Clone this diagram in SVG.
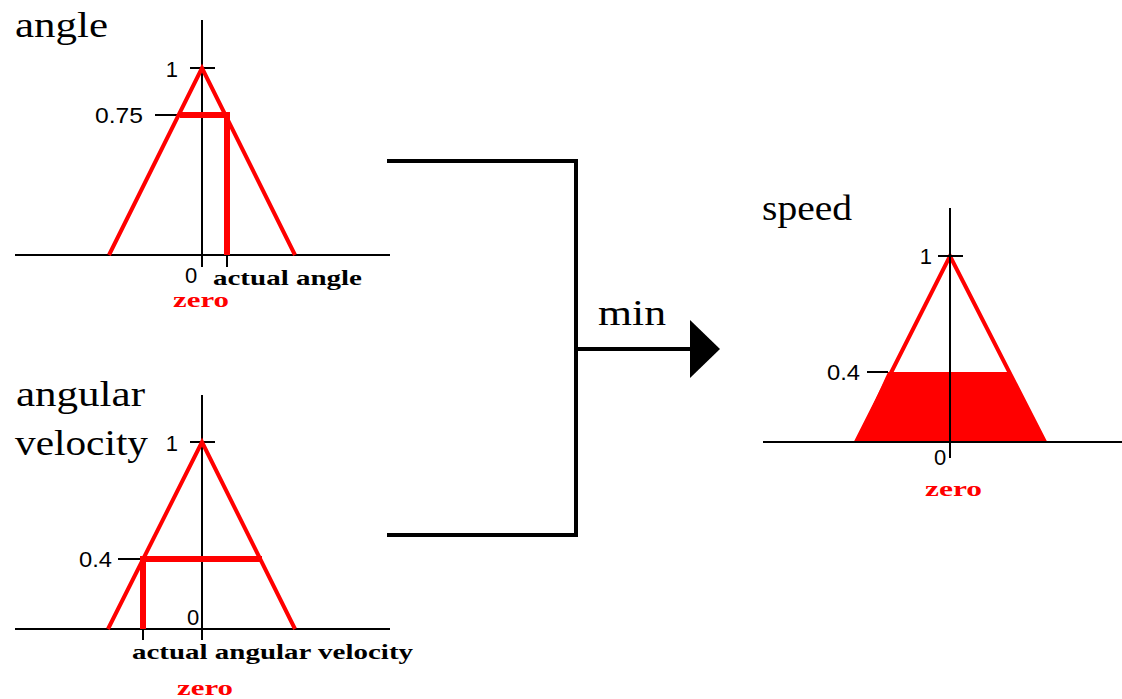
<svg xmlns="http://www.w3.org/2000/svg" width="1122" height="699" viewBox="0 0 1122 699">
<style>
.title{font-family:"Liberation Serif",serif;font-size:36px;fill:#000}
.num{font-family:"Liberation Sans",sans-serif;font-size:22px;fill:#000}
.lbl{font-family:"Liberation Serif",serif;font-size:22px;font-weight:bold;fill:#000}
.zero{font-family:"Liberation Serif",serif;font-size:22px;font-weight:bold;fill:#f00}
.ax{stroke:#000;stroke-width:2;fill:none}
.mf{stroke:#f00;stroke-width:4;fill:none;stroke-linejoin:miter}
.cut{stroke:#f00;stroke-width:6;fill:none}
.conn{stroke:#000;stroke-width:4;fill:none}
</style>
<defs>
<marker id="arr" markerUnits="userSpaceOnUse" markerWidth="32" markerHeight="60" refX="0" refY="29" orient="auto">
<path d="M0,0 L30,29 L0,58 Z" fill="#000"/>
</marker>
</defs>
<rect width="1122" height="699" fill="#fff"/>

<g id="angle">
<text class="title" x="15" y="37" textLength="93" lengthAdjust="spacingAndGlyphs">angle</text>
<line class="ax" x1="202" y1="20" x2="202" y2="267"/>
<line class="ax" x1="15" y1="255" x2="390" y2="255"/>
<line class="ax" x1="190" y1="68" x2="215" y2="68"/>
<line class="ax" x1="155" y1="115" x2="182" y2="115"/>
<line class="ax" x1="227" y1="255" x2="227" y2="267"/>
<polyline class="mf" points="109,255 202,68 295,255"/>
<line class="cut" x1="180" y1="115" x2="230" y2="115"/>
<line class="cut" x1="227" y1="112" x2="227" y2="255"/>
<text class="num" x="178" y="77" text-anchor="end">1</text>
<text class="num" x="95" y="123" textLength="48" lengthAdjust="spacingAndGlyphs">0.75</text>
<text class="num" x="185" y="283">0</text>
<text class="lbl" x="213" y="285" textLength="149" lengthAdjust="spacingAndGlyphs">actual angle</text>
<text class="zero" x="173" y="307" textLength="56" lengthAdjust="spacingAndGlyphs">zero</text>
</g>

<g id="angular-velocity">
<text class="title" x="16" y="406" textLength="129" lengthAdjust="spacingAndGlyphs">angular</text>
<text class="title" x="15" y="455" textLength="133" lengthAdjust="spacingAndGlyphs">velocity</text>
<line class="ax" x1="202" y1="395" x2="202" y2="640"/>
<line class="ax" x1="15" y1="629" x2="390" y2="629"/>
<line class="ax" x1="190" y1="442" x2="215" y2="442"/>
<line class="ax" x1="118" y1="559" x2="143" y2="559"/>
<line class="ax" x1="143" y1="629" x2="143" y2="640"/>
<polyline class="mf" points="108,629 202,442 295,629"/>
<line class="cut" x1="143" y1="559" x2="262" y2="559"/>
<line class="cut" x1="143" y1="556" x2="143" y2="629"/>
<text class="num" x="178" y="451" text-anchor="end">1</text>
<text class="num" x="79" y="567" textLength="33" lengthAdjust="spacingAndGlyphs">0.4</text>
<text class="num" x="187" y="625">0</text>
<text class="lbl" x="132" y="659" textLength="281" lengthAdjust="spacingAndGlyphs">actual angular velocity</text>
<text class="zero" x="177" y="695" textLength="56" lengthAdjust="spacingAndGlyphs">zero</text>
</g>

<g id="speed">
<text class="title" x="762" y="220" textLength="90" lengthAdjust="spacingAndGlyphs">speed</text>
<polygon points="856,442 888,372 1009,372 1045,442" fill="#f00"/>
<polyline class="mf" points="856,442 950,256 1045,442"/>
<line class="ax" x1="950" y1="208" x2="950" y2="458"/>
<line class="ax" x1="763" y1="442" x2="1122" y2="442"/>
<line class="ax" x1="938" y1="256" x2="963" y2="256"/>
<line class="ax" x1="867" y1="372" x2="888" y2="372"/>
<text class="num" x="932" y="264" text-anchor="end">1</text>
<text class="num" x="827" y="380" textLength="33" lengthAdjust="spacingAndGlyphs">0.4</text>
<text class="num" x="934" y="465">0</text>
<text class="zero" x="925" y="496" textLength="57" lengthAdjust="spacingAndGlyphs">zero</text>
</g>

<g id="connectors">
<polyline class="conn" points="387,161 576,161 576,535 387,535"/>
<line class="conn" x1="576" y1="349" x2="690" y2="349" marker-end="url(#arr)"/>
<text class="title" x="598" y="325" textLength="68" lengthAdjust="spacingAndGlyphs">min</text>
</g>
</svg>
